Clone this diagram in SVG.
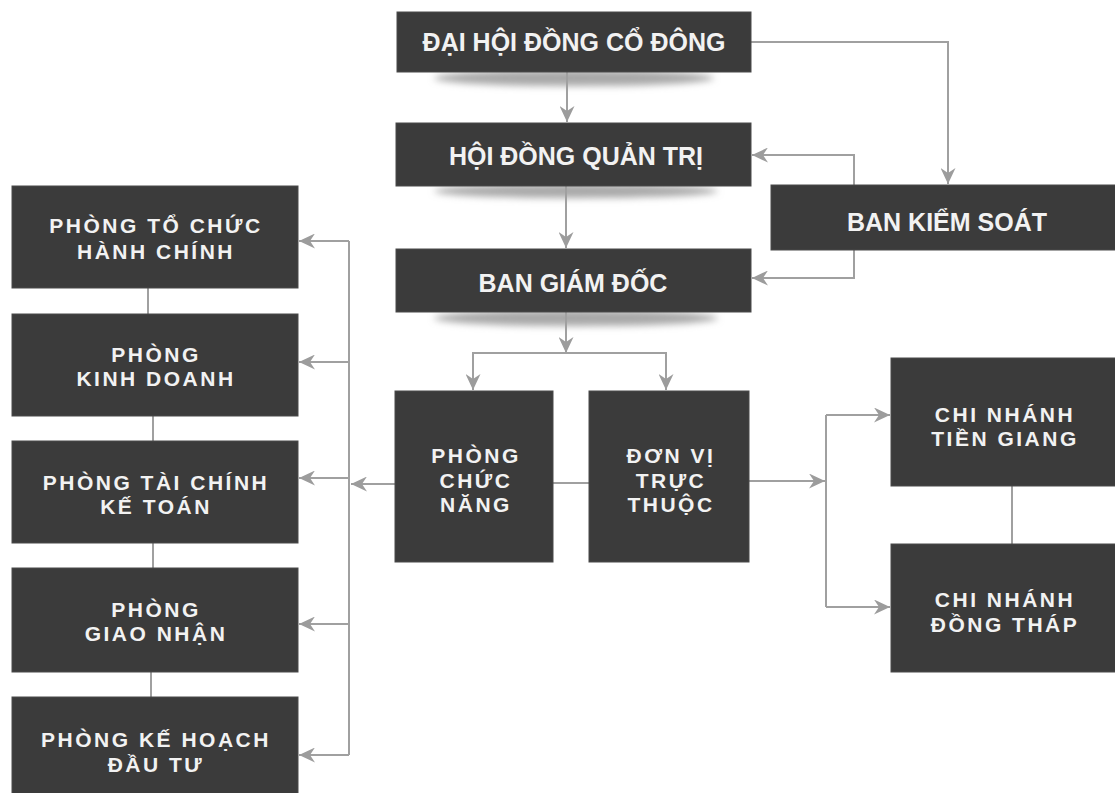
<svg xmlns="http://www.w3.org/2000/svg" width="1115" height="793" viewBox="0 0 1115 793">
<style>
.box{fill:#3b3b3b;stroke:#4a4a4a;stroke-width:1}
.t1{font-family:"Liberation Sans",Arial,sans-serif;font-weight:bold;font-size:25px;fill:#f2f2f2;text-anchor:middle}
.t2{font-family:"Liberation Sans",Arial,sans-serif;font-weight:bold;font-size:21px;letter-spacing:2.5px;fill:#f2f2f2;text-anchor:middle}
.c{fill:none;stroke:#a0a0a0;stroke-width:2}
.a{marker-end:url(#arr)}
.sh{fill:#a8a8a8;filter:url(#blur)}
</style>
<defs>
<marker id="arr" markerUnits="userSpaceOnUse" markerWidth="17" markerHeight="15" refX="16" refY="7.5" orient="auto">
<path d="M0,0 L16,7.5 L0,15 L5,7.5 z" fill="#9c9c9c"/>
</marker>
<filter id="blur" x="-20%" y="-100%" width="140%" height="300%"><feGaussianBlur stdDeviation="3.5"/></filter>
</defs>
<rect width="1115" height="793" fill="#ffffff"/>
<g id="shadows">
<ellipse class="sh" cx="574" cy="78" rx="140" ry="8"/>
<ellipse class="sh" cx="576" cy="191" rx="142" ry="7"/>
<ellipse class="sh" cx="576" cy="318" rx="142" ry="8"/>
</g>
<g id="connectors">
<path class="c a" d="M567,72 V122"/>
<path class="c a" d="M751,42 H948 V184"/>
<path class="c a" d="M854,185 V155 H752"/>
<path class="c a" d="M854,250 V278 H752"/>
<path class="c a" d="M566,186 V248"/>
<path class="c a" d="M566,312 V353"/>
<path class="c a" d="M566,353 H473 V390"/>
<path class="c a" d="M566,353 H666 V390"/>
<path class="c a" d="M395,484 H351"/>
<path class="c" d="M349,241 V755"/>
<path class="c a" d="M349,241 H299"/>
<path class="c a" d="M349,362 H299"/>
<path class="c a" d="M349,478 H299"/>
<path class="c a" d="M349,624 H299"/>
<path class="c a" d="M349,755 H299"/>
<path class="c" d="M553,483 H589"/>
<path class="c a" d="M749,481 H825"/>
<path class="c" d="M826,415 V607"/>
<path class="c a" d="M826,415 H890"/>
<path class="c a" d="M826,607 H890"/>
<path class="c" d="M148,288 V314"/>
<path class="c" d="M153,416 V441"/>
<path class="c" d="M153,543 V568"/>
<path class="c" d="M151,672 V697"/>
<path class="c" d="M1012,486 V544"/>
</g>
<g id="dhdcd"><rect class="box" x="397" y="12" width="354" height="60"/><text class="t1" x="574" y="51">ĐẠI HỘI ĐỒNG CỔ ĐÔNG</text></g>
<g id="hdqt"><rect class="box" x="396" y="123" width="355" height="63"/><text class="t1" x="576" y="165">HỘI ĐỒNG QUẢN TRỊ</text></g>
<g id="bgd"><rect class="box" x="396" y="249" width="355" height="63"/><text class="t1" x="573" y="292">BAN GIÁM ĐỐC</text></g>
<g id="bks"><rect class="box" x="771" y="185" width="345" height="65"/><text class="t1" x="947" y="231">BAN KIỂM SOÁT</text></g>
<g id="tchc"><rect class="box" x="12" y="186" width="286" height="102"/><text class="t2" x="156" y="233">PHÒNG TỔ CHỨC</text><text class="t2" x="156" y="259">HÀNH CHÍNH</text></g>
<g id="kd"><rect class="box" x="12" y="314" width="286" height="102"/><text class="t2" x="156" y="362">PHÒNG</text><text class="t2" x="156" y="386">KINH DOANH</text></g>
<g id="tckt"><rect class="box" x="12" y="441" width="286" height="102"/><text class="t2" x="156" y="490">PHÒNG TÀI CHÍNH</text><text class="t2" x="156" y="514">KẾ TOÁN</text></g>
<g id="gn"><rect class="box" x="12" y="568" width="286" height="104"/><text class="t2" x="156" y="617">PHÒNG</text><text class="t2" x="156" y="641">GIAO NHẬN</text></g>
<g id="khdt"><rect class="box" x="12" y="697" width="286" height="104"/><text class="t2" x="156" y="747">PHÒNG KẾ HOẠCH</text><text class="t2" x="156" y="772">ĐẦU TƯ</text></g>
<g id="pcn"><rect class="box" x="395" y="391" width="158" height="171"/><text class="t2" x="476" y="463">PHÒNG</text><text class="t2" x="476" y="488">CHỨC</text><text class="t2" x="476" y="512">NĂNG</text></g>
<g id="dvtt"><rect class="box" x="589" y="391" width="160" height="171"/><text class="t2" x="671" y="463">ĐƠN VỊ</text><text class="t2" x="671" y="488">TRỰC</text><text class="t2" x="671" y="512">THUỘC</text></g>
<g id="cntg"><rect class="box" x="891" y="358" width="225" height="128"/><text class="t2" x="1005" y="422">CHI NHÁNH</text><text class="t2" x="1005" y="446">TIỀN GIANG</text></g>
<g id="cndt"><rect class="box" x="891" y="544" width="225" height="128"/><text class="t2" x="1005" y="607">CHI NHÁNH</text><text class="t2" x="1005" y="632">ĐỒNG THÁP</text></g>
</svg>
